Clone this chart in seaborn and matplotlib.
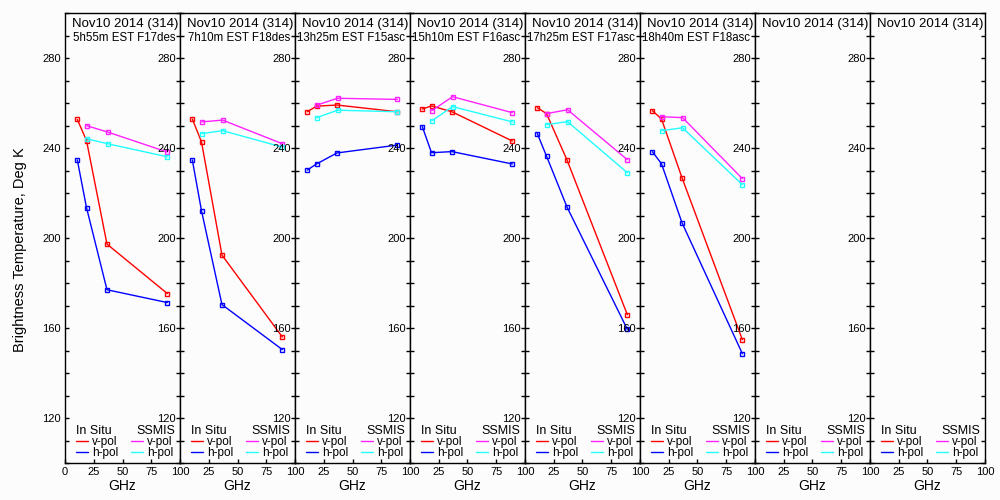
import matplotlib
matplotlib.use("Agg")
import matplotlib.pyplot as plt
import seaborn as sns
import pandas as pd
from matplotlib.lines import Line2D
from matplotlib.ticker import MultipleLocator

sns.set_style("white")
plt.rcParams['font.family'] = ['Liberation Sans', 'DejaVu Sans']
plt.rcParams['text.color'] = 'black'
plt.rcParams['axes.labelcolor'] = 'black'
plt.rcParams['xtick.color'] = 'black'
plt.rcParams['ytick.color'] = 'black'

# ---------------- data ----------------
date_label = "Nov10 2014 (314)"
pass_labels = ["5h55m EST F17des", "7h10m EST F18des", "13h25m EST F15asc",
               "15h10m EST F16asc", "17h25m EST F17asc", "18h40m EST F18asc", "", ""]

insitu_freq = [10.7, 18.7, 36.5, 89.0]
ssmis_freq = [19.0, 37.0, 89.0]

insitu_v = [
    [252.7, 243.3, 197.3, 175.3],
    [252.9, 242.7, 192.4, 156.0],
    [256.1, 258.6, 259.1, 256.1],
    [257.3, 258.7, 256.1, 243.1],
    [257.9, 255.3, 234.7, 165.9],
    [256.6, 252.9, 226.8, 154.8],
    None, None]
insitu_h = [
    [234.7, 213.5, 177.0, 171.3],
    [234.7, 212.1, 170.4, 150.4],
    [230.2, 232.9, 237.8, 241.3],
    [249.5, 237.9, 238.4, 232.9],
    [246.4, 236.4, 213.8, 159.4],
    [238.4, 233.0, 206.8, 148.6],
    None, None]
ssmis_v = [
    [249.9, 247.1, 238.2],
    [251.6, 252.4, 241.9],
    [259.1, 262.1, 261.6],
    [256.6, 262.8, 255.7],
    [255.3, 257.0, 234.8],
    [253.9, 253.5, 226.4],
    None, None]
ssmis_h = [
    [244.1, 241.9, 236.1],
    [246.4, 247.7, 240.4],
    [253.5, 256.8, 256.1],
    [252.1, 258.4, 251.6],
    [250.4, 251.7, 229.0],
    [247.7, 249.0, 223.7],
    None, None]

x_ticks = [0, 25, 50, 75, 100]
y_ticks = [120, 160, 200, 240, 280]

c_iv, c_ih, c_sv, c_sh = '#ff0000', '#0000ff', '#ff22ff', '#22ffff'
bg = '#fcfcfc'

fig, axes = plt.subplots(1, 8, figsize=(10, 5), dpi=100)
fig.patch.set_facecolor(bg)
fig.subplots_adjust(left=0.065, right=0.985, bottom=0.074, top=0.974, wspace=0)

for i, ax in enumerate(axes):
    ax.set_facecolor(bg)
    series = [(insitu_freq, insitu_v[i], c_iv), (insitu_freq, insitu_h[i], c_ih),
              (ssmis_freq, ssmis_v[i], c_sv), (ssmis_freq, ssmis_h[i], c_sh)]
    for freq, vals, col in series:
        if vals is None:
            continue
        df = pd.DataFrame({'f': freq, 'tb': vals})
        sns.lineplot(data=df, x='f', y='tb', ax=ax, color=col, marker='s', markersize=3.5,
                     markerfacecolor='none', markeredgecolor=col, markeredgewidth=1,
                     linewidth=1, sort=False, legend=False)
    ax.set_xlim(0, 100)
    ax.set_ylim(100, 300)
    ax.set_xticks(x_ticks)
    xl = [str(t) for t in x_ticks]
    if i > 0:
        xl[0] = ''
    ax.set_xticklabels(xl)
    ax.set_yticks(y_ticks)
    ax.set_yticklabels([str(t) for t in y_ticks])
    ax.yaxis.set_minor_locator(MultipleLocator(10))
    ax.tick_params(axis='both', which='both', direction='in', length=3, width=1,
                   labelsize=8, pad=3)
    ax.tick_params(axis='y', which='both', left=True, right=True)
    ax.tick_params(axis='x', which='both', bottom=True, top=False)
    for s in ax.spines.values():
        s.set_visible(True)
        s.set_color('black')
        s.set_linewidth(1)
    ax.set_xlabel('GHz', fontsize=10, labelpad=1)
    ax.set_ylabel('')

    # panel titles (clipped at panel border)
    ax.text(0.06, 0.976, date_label, transform=ax.transAxes, ha='left', va='center',
            fontsize=9.5, clip_on=True)
    if pass_labels[i]:
        x0 = 0.067 if pass_labels[i].index('h') == 1 else 0.017
        ax.text(x0, 0.944, pass_labels[i], transform=ax.transAxes, ha='left', va='center',
                fontsize=8.3, clip_on=True)

    # legend
    ax.text(0.096, 0.072, 'In Situ', transform=ax.transAxes, ha='left', va='center', fontsize=9)
    ax.text(0.617, 0.072, 'SSMIS', transform=ax.transAxes, ha='left', va='center', fontsize=9)
    handles = [Line2D([], [], color=c_iv, lw=1), Line2D([], [], color=c_ih, lw=1),
               Line2D([], [], color=c_sv, lw=1), Line2D([], [], color=c_sh, lw=1)]
    ax.legend(handles, ['v-pol', 'h-pol', 'v-pol', 'h-pol'], ncol=2,
              loc='lower left', bbox_to_anchor=(0.085, 0.006), frameon=False, fontsize=8.5,
              handlelength=1.0, handletextpad=0.34, columnspacing=1.1, labelspacing=-0.1,
              borderpad=0.1, borderaxespad=0)

fig.text(0.02, 0.5, 'Brightness Temperature, Deg K', rotation=90, ha='center', va='center',
         fontsize=10.5)

fig.savefig('out.png', dpi=100, facecolor=bg)
